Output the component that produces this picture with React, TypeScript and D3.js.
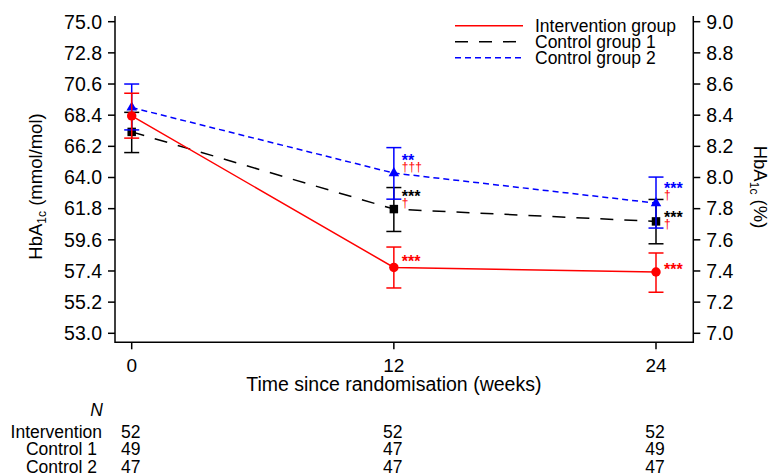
import React, { useEffect, useRef } from 'react';
import * as d3 from 'd3';

// chart values (HbA1c in mmol/mol)
const weeks = [0, 12, 24];
const mmolTicks = [53.0, 55.2, 57.4, 59.6, 61.8, 64.0, 66.2, 68.4, 70.6, 72.8, 75.0];
const pctTicks = [7.0, 7.2, 7.4, 7.6, 7.8, 8.0, 8.2, 8.4, 8.6, 8.8, 9.0];

const interventionMean = [68.35, 57.65, 57.33];
const interventionLow = [66.78, 56.2, 55.9];
const interventionHigh = [69.95, 59.09, 58.67];

const control1Mean = [67.22, 61.77, 60.9];
const control1Low = [65.76, 60.19, 59.32];
const control1High = [68.6, 63.29, 62.45];

const control2Mean = [68.94, 64.31, 62.19];
const control2Low = [67.36, 62.47, 60.43];
const control2High = [70.6, 66.11, 64.03];

const legendLabels = ['Intervention group', 'Control group 1', 'Control group 2'];

const nLabels = ['Intervention', 'Control 1', 'Control 2'];
const nIntervention = [52, 52, 52];
const nControl1 = [49, 47, 49];
const nControl2 = [47, 47, 47];

// significance marks: week, value (mmol/mol) of the stars, stars, daggers below, colour
const marks = [
  { week: 12, value: 65.5, stars: '**', daggers: '†††', color: '#0000ff' },
  { week: 12, value: 62.95, stars: '***', daggers: '†', color: '#000000' },
  { week: 12, value: 58.4, stars: '***', daggers: '', color: '#ff0000' },
  { week: 24, value: 63.55, stars: '***', daggers: '†', color: '#0000ff' },
  { week: 24, value: 61.5, stars: '***', daggers: '†', color: '#000000' },
  { week: 24, value: 57.85, stars: '***', daggers: '', color: '#ff0000' },
];

const W = 771;
const H = 476;
const font = "'Liberation Sans', Arial, Helvetica, sans-serif";

export default function App() {
  const svgRef = useRef<SVGSVGElement>(null);

  useEffect(() => {
    const svg = d3.select(svgRef.current);
    svg.selectAll('*').remove();

    const left = 115,
      right = 693.3,
      bottom = 342.3,
      top = 16;

    const x = d3.scaleLinear().domain([0, 24]).range([131.7, 656]);
    const y = d3.scaleLinear().domain([53, 75]).range([333.3, 21.7]);
    const yPct = d3.scaleLinear().domain([7, 9]).range([333.3, 21.7]);

    // frame (left, bottom, right)
    svg
      .append('path')
      .attr('d', `M${left},${top}V${bottom}H${right}V${top}`)
      .attr('fill', 'none')
      .attr('stroke', '#000')
      .attr('stroke-width', 1.5);

    // left axis ticks
    const gl = svg.append('g');
    mmolTicks.forEach(t => {
      gl.append('line')
        .attr('x1', left - 7)
        .attr('x2', left)
        .attr('y1', y(t))
        .attr('y2', y(t))
        .attr('stroke', '#000')
        .attr('stroke-width', 1.5);
      gl.append('text')
        .attr('x', left - 13)
        .attr('y', y(t))
        .attr('dy', '0.35em')
        .attr('text-anchor', 'end')
        .style('font-size', '19.5px')
        .text(t.toFixed(1));
    });

    // right axis ticks
    const gr = svg.append('g');
    pctTicks.forEach(t => {
      gr.append('line')
        .attr('x1', right)
        .attr('x2', right + 7)
        .attr('y1', yPct(t))
        .attr('y2', yPct(t))
        .attr('stroke', '#000')
        .attr('stroke-width', 1.5);
      gr.append('text')
        .attr('x', right + 13)
        .attr('y', yPct(t))
        .attr('dy', '0.35em')
        .style('font-size', '19.5px')
        .text(t.toFixed(1));
    });

    // x ticks
    const gx = svg.append('g');
    weeks.forEach(w => {
      gx.append('line')
        .attr('x1', x(w))
        .attr('x2', x(w))
        .attr('y1', bottom)
        .attr('y2', bottom + 7)
        .attr('stroke', '#000')
        .attr('stroke-width', 1.5);
      gx.append('text')
        .attr('x', x(w))
        .attr('y', 365)
        .attr('dy', '0.35em')
        .attr('text-anchor', 'middle')
        .style('font-size', '19px')
        .text(w);
    });

    // axis titles
    svg
      .append('text')
      .attr('x', x(12))
      .attr('y', 384)
      .attr('dy', '0.35em')
      .attr('text-anchor', 'middle')
      .style('font-size', '19.5px')
      .text('Time since randomisation (weeks)');

    const yl = svg
      .append('text')
      .attr('transform', 'translate(42,186.5) rotate(-90)')
      .attr('text-anchor', 'middle')
      .style('font-size', '18.5px');
    yl.append('tspan').text('HbA');
    yl.append('tspan').attr('dy', 4).style('font-size', '12px').text('1c');
    yl.append('tspan').attr('dy', -4).text(' (mmol/mol)');

    const yr = svg
      .append('text')
      .attr('transform', 'translate(754,187) rotate(90)')
      .attr('text-anchor', 'middle')
      .style('font-size', '18.5px');
    yr.append('tspan').text('HbA');
    yr.append('tspan').attr('dy', 4).style('font-size', '12px').text('1c');
    yr.append('tspan').attr('dy', -4).text(' (%)');

    // series
    const series = [
      { mean: control1Mean, low: control1Low, high: control1High, color: '#000000', dash: '13,11', symbol: d3.symbolSquare, size: 72 },
      { mean: control2Mean, low: control2Low, high: control2High, color: '#0000ff', dash: '6,4', symbol: d3.symbolTriangle, size: 48 },
      { mean: interventionMean, low: interventionLow, high: interventionHigh, color: '#ff0000', dash: null, symbol: d3.symbolCircle, size: 70 },
    ];

    const line = d3
      .line<number>()
      .x((d, i) => x(weeks[i]))
      .y(d => y(d));

    series.forEach(s => {
      svg
        .append('path')
        .datum(s.mean)
        .attr('d', line)
        .attr('fill', 'none')
        .attr('stroke', s.color)
        .attr('stroke-width', 1.5)
        .attr('stroke-dasharray', s.dash);
    });

    series.forEach(s => {
      const g = svg.append('g').attr('stroke', s.color).attr('stroke-width', 1.5);
      weeks.forEach((w, i) => {
        g.append('line').attr('x1', x(w)).attr('x2', x(w)).attr('y1', y(s.low[i])).attr('y2', y(s.high[i]));
        g.append('line').attr('x1', x(w) - 7.5).attr('x2', x(w) + 7.5).attr('y1', y(s.low[i])).attr('y2', y(s.low[i]));
        g.append('line').attr('x1', x(w) - 7.5).attr('x2', x(w) + 7.5).attr('y1', y(s.high[i])).attr('y2', y(s.high[i]));
      });
      svg
        .append('g')
        .selectAll('path')
        .data(s.mean)
        .enter()
        .append('path')
        .attr('transform', (d, i) => `translate(${x(weeks[i])},${y(d)})`)
        .attr('d', d3.symbol().type(s.symbol).size(s.size)())
        .attr('fill', s.color);
    });

    // significance marks: stars with daggers stacked underneath in one text
    marks.forEach(m => {
      const t = svg
        .append('text')
        .attr('x', x(m.week) + 8)
        .attr('y', y(m.value))
        .attr('dy', '0.62em')
        .style('font-size', '16px')
        .style('font-weight', 'bold')
        .attr('fill', m.color)
        .text(m.stars);
      if (m.daggers) {
        t.append('tspan')
          .attr('x', x(m.week) + 8)
          .attr('dy', 5)
          .style('font-size', '12px')
          .style('font-weight', 'normal')
          .attr('fill', '#ff0000')
          .text(m.daggers);
      }
    });

    // legend
    const lg = svg.append('g');
    const legendColors = ['#ff0000', '#000000', '#0000ff'];
    const legendDash = [null, '13,11', '6,4'];
    legendLabels.forEach((label, i) => {
      const ly = 25.7 + i * 16;
      lg.append('line')
        .attr('x1', 455)
        .attr('x2', 523)
        .attr('y1', ly)
        .attr('y2', ly)
        .attr('stroke', legendColors[i])
        .attr('stroke-width', 1.5)
        .attr('stroke-dasharray', legendDash[i]);
      lg.append('text')
        .attr('x', 535)
        .attr('y', ly)
        .attr('dy', '0.35em')
        .style('font-size', '17.5px')
        .text(label);
    });

    // N table
    svg
      .append('text')
      .attr('x', 103)
      .attr('y', 410)
      .attr('dy', '0.35em')
      .attr('text-anchor', 'end')
      .style('font-size', '17.5px')
      .style('font-style', 'italic')
      .text('N');
    const nRows = [nIntervention, nControl1, nControl2];
    const labelRight = [102, 97, 97];
    nLabels.forEach((label, r) => {
      const ry = 431.5 + r * 17.8;
      svg
        .append('text')
        .attr('x', labelRight[r])
        .attr('y', ry)
        .attr('dy', '0.35em')
        .attr('text-anchor', 'end')
        .style('font-size', '17.5px')
        .text(label);
      nRows[r].forEach((n, i) => {
        svg
          .append('text')
          .attr('x', x(weeks[i]) - 1)
          .attr('y', ry)
          .attr('dy', '0.35em')
          .attr('text-anchor', 'middle')
          .style('font-size', '17.5px')
          .text(n);
      });
    });
  }, []);

  return (
    <svg
      ref={svgRef}
      width={W}
      height={H}
      style={{ position: 'absolute', left: 0, top: 0, background: '#fff', fontFamily: font }}
    />
  );
}
